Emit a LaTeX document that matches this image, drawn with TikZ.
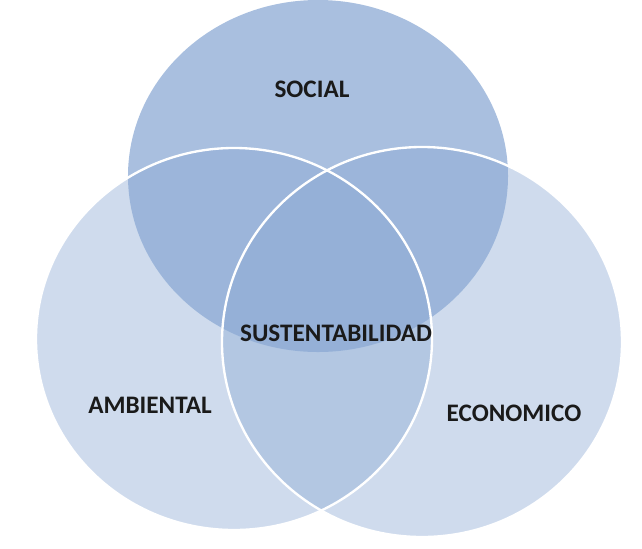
\documentclass[tikz,border=0pt]{standalone}
\usepackage{fontspec}
\setmainfont{Carlito}
\usepackage{xcolor}
\usepackage{tikz}
\usetikzlibrary{shapes.geometric, positioning}
\definecolor{vennblue}{HTML}{789BCD}
\definecolor{sideblue}{HTML}{8CAAD4}
\definecolor{vennink}{HTML}{1A1A1A}
\tikzstyle{setnode} = [ellipse, inner sep=0pt, fill=sideblue, fill opacity=0.42, draw=none]
\tikzstyle{rim} = [draw=white, line width=2pt]
\tikzstyle{lbl} = [text=vennink, font=\fontsize{21.5}{24}\selectfont\bfseries, inner sep=0pt]

\begin{document}
\begin{tikzpicture}[x=0.03cm, y=-0.03cm]
    \useasboundingbox (0,0) rectangle (642,548);

    % the three sets
    \node (social) [setnode, fill=vennblue, fill opacity=0.64, minimum width=11.4cm, minimum height=10.56cm] at (318,176) {};
    \node (amb) [setnode, minimum width=11.88cm, minimum height=11.46cm] at (234,339) {};
    \node (eco) [setnode, minimum width=12cm, minimum height=11.7cm] at (422,342) {};

    % white outlines on top
    \draw [rim] (amb.center) ellipse [x radius=5.94cm, y radius=5.73cm];
    \draw [rim] (eco.center) ellipse [x radius=6cm, y radius=5.85cm];

    \node (tsocial) [lbl] at (312,89) {SOCIAL};
    \node (tsust) [lbl] at (336,333) {SUSTENTABILIDAD};
    \node (tamb) [lbl] at (150,405) {AMBIENTAL};
    \node (teco) [lbl] at (514,413) {ECONOMICO};
\end{tikzpicture}
\end{document}
